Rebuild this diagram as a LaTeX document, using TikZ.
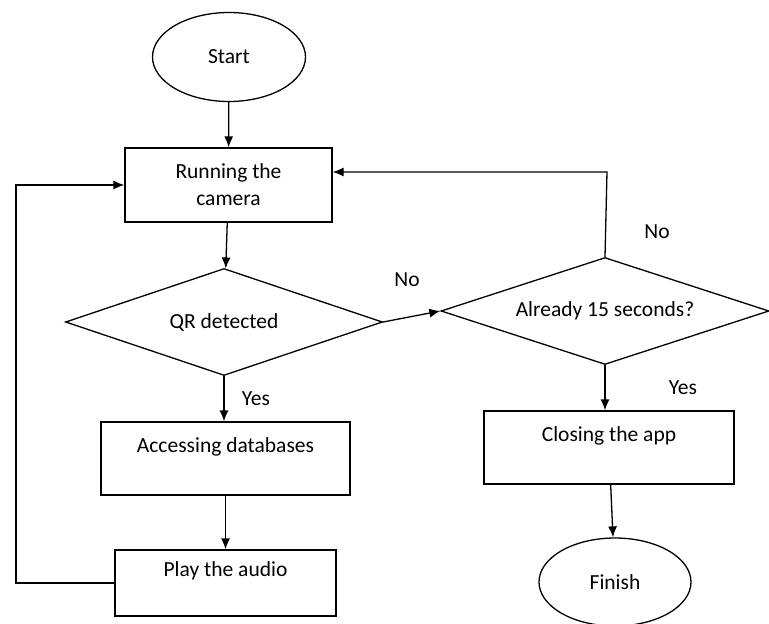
\documentclass[tikz,border=0pt]{standalone}
\usepackage{fontspec}
\setmainfont{Carlito}
\usetikzlibrary{shapes.geometric,arrows.meta}

\begin{document}
\begin{tikzpicture}[x=1pt, y=-1pt, line width=1.3pt,
            every node/.style={font=\fontsize{21.5}{27}\selectfont},
            terminal/.style={draw, ellipse, minimum width=153pt, minimum height=89pt},
            process/.style={draw, rectangle, align=center, inner sep=0pt},
            decision/.style={draw, diamond, aspect=3, inner sep=0pt, minimum width=317pt, minimum height=107pt},
            arr/.style={-{Latex[length=11pt,width=9pt]}}]
            \useasboundingbox (0,0) rectangle (769,624);
            \node[terminal] (start) at (229,57) {Start};
            \node[process, minimum width=207pt, minimum height=74pt] (camera) at (228.5,185) {Running the\\camera};
            \node[decision] (qr) at (224,322) {QR detected};
            \node[process, minimum width=249pt, minimum height=73pt] (access) at (225.5,458.5) {Accessing databases\\\mbox{}};
            \node[process, minimum width=221pt, minimum height=66pt] (audio) at (225.5,583) {Play the audio\\\mbox{}};
            \node[decision, minimum width=328pt] (timeout) at (605,311) {Already 15 seconds?};
            \node[process, minimum width=250pt, minimum height=73pt] (close) at (609,447.5) {Closing the app\\\mbox{}};
            \node[terminal, minimum width=152pt, minimum height=88pt] (finish) at (615,582) {Finish};
            \coordinate (loopL) at (16,585);
            \coordinate (loopR) at (607,172);
            \foreach \a/\b in {start/camera, camera/qr, access/audio, close/finish}
                \draw[arr] (\a) -- (\b);
            \draw[arr] (qr.south) -- (qr.south |- access.north) node[pos=0.5, right=14pt] (yes1) {Yes};
            \draw[arr] (qr.east) -- (timeout.west);
            \node (no1) at (407,280) {No};
            \draw[arr] (timeout.south) -- (timeout.south |- close.north) node[pos=0.5, right=60pt] (yes2) {Yes};
            \node (no2) at (657,232) {No};
            \draw[arr] (audio.west) -- (audio.west -| loopL) |- (camera.west);
            \draw[arr] (timeout.north) -- (loopR) -- (loopR -| camera.east);
        \end{tikzpicture}
\end{document}
